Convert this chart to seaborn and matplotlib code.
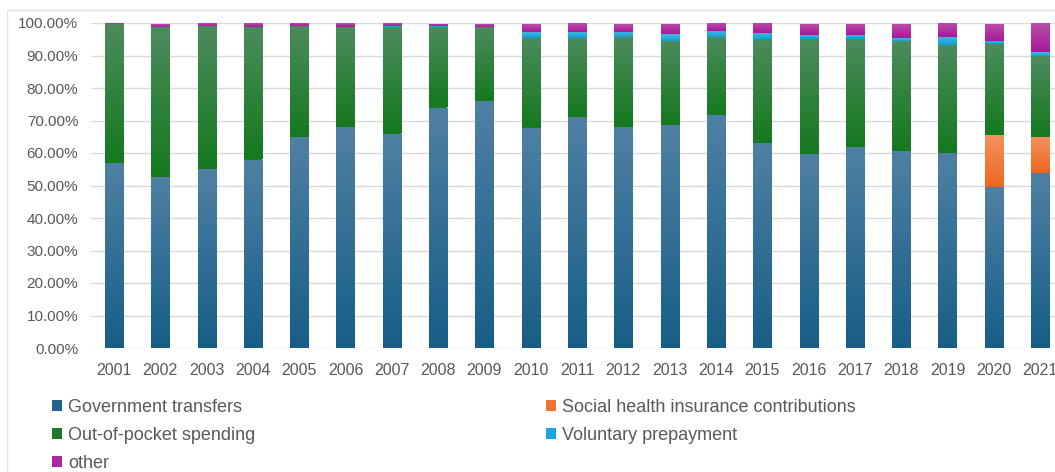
import numpy as np
import matplotlib
matplotlib.use("Agg")
import matplotlib.pyplot as plt
import seaborn as sns
from matplotlib.patches import Patch, Rectangle
from matplotlib.colors import to_rgb
from matplotlib.ticker import FuncFormatter, MultipleLocator

# ---- data (percent shares) ----
years = [str(y) for y in range(2001, 2022)]
gov = [56.8, 52.7, 55.0, 58.0, 65.0, 68.0, 66.0, 74.0, 76.0, 67.6, 71.0,
       67.9, 68.6, 71.7, 63.0, 59.6, 61.7, 60.6, 59.9, 49.6, 53.7]
shi = [0, 0, 0, 0, 0, 0, 0, 0, 0, 0, 0,
       0, 0, 0, 0, 0, 0, 0, 0, 15.9, 11.3]
oop = [42.8, 46.0, 44.0, 40.7, 34.0, 30.7, 32.9, 24.7, 22.7, 27.7, 24.3,
       27.7, 26.0, 23.9, 32.0, 35.4, 33.3, 34.0, 33.3, 27.9, 24.8]
vol = [0.1, 0.1, 0.1, 0.1, 0.1, 0.1, 0.1, 0.3, 0.2, 2.0, 2.0,
       1.7, 2.0, 2.0, 1.9, 1.3, 1.3, 0.9, 2.6, 1.1, 1.2]
other = [0.3, 0.9, 0.9, 1.2, 0.9, 1.2, 0.9, 0.7, 0.8, 2.4, 2.7,
         2.4, 3.1, 2.4, 3.1, 3.4, 3.4, 4.2, 4.2, 5.2, 9.0]

names = ["Government transfers", "Social health insurance contributions",
         "Out-of-pocket spending", "Voluntary prepayment", "other"]
series = [gov, shi, oop, vol, other]
colors = ["#22648E", "#F07430", "#1B7A2B", "#1CA5DC", "#AC26A0"]
tops = ["#4F80A3", "#F3925E", "#4C8B5D", "#47B6E3", "#B94FA8"]
bottoms = ["#175E87", "#EF6620", "#15791F", "#12A0D8", "#A6199A"]

sns.set_theme(style="white")
plt.rcParams['font.family'] = ['Liberation Sans', 'DejaVu Sans']

W, H = 1055, 472
fig = plt.figure(figsize=(W / 100, H / 100), dpi=100)
fig.patch.set_facecolor("white")
ax = fig.add_axes([90.8 / W, 124 / H, 972.5 / W, 325 / H])

bottom = np.zeros(len(years))
groups = []
for name, vals, col in zip(names, series, colors):
    n0 = len(ax.patches)
    sns.barplot(x=years, y=vals, bottom=bottom.copy(), color=col, width=0.39,
                saturation=1, errorbar=None, linewidth=0, ax=ax)
    groups.append(ax.patches[n0:])
    bottom += np.array(vals, dtype=float)

# Excel-like vertical gradient on each segment (clipped to the seaborn bars)
for pats, ct, cb in zip(groups, tops, bottoms):
    t = np.array(to_rgb(ct)); b = np.array(to_rgb(cb))
    grad = np.linspace(0, 1, 64)[:, None, None]
    img = b[None, None, :] * (1 - grad) + t[None, None, :] * grad
    for p in pats:
        h = p.get_height()
        if h <= 0:
            continue
        x0, y0 = p.get_xy()
        im = ax.imshow(img, extent=(x0, x0 + p.get_width(), y0, y0 + h),
                       origin="lower", aspect="auto", interpolation="bilinear",
                       zorder=p.get_zorder() + 0.1)
        im.set_clip_path(p)

ax.set_xlim(-0.5, 20.5)
ax.set_ylim(0, 100)
ax.yaxis.set_major_locator(MultipleLocator(10))
ax.yaxis.set_major_formatter(FuncFormatter(lambda v, p: f"{v:.2f}%"))
ax.grid(axis="y", color="#DADADA", linewidth=1)
ax.grid(axis="x", visible=False)
ax.set_axisbelow(True)
for s in ax.spines.values():
    s.set_visible(False)
ax.tick_params(axis="both", length=0, labelcolor="#595959")
ax.tick_params(axis="y", pad=9, labelsize=11)
ax.tick_params(axis="x", pad=11, labelsize=11.5)
ax.set_xlabel("")
ax.set_ylabel("")

# outer chart frame (faint)
fig.add_artist(Rectangle((7 / W, -0.1), 1.2, 1.1 - 10 / H, transform=fig.transFigure,
                         fill=False, edgecolor="#DDE3EA", linewidth=1))

# legend in two column blocks
handles = [Patch(facecolor=c, edgecolor="none") for c in colors]
col1 = [0, 2, 4]
col2 = [1, 3]
common = dict(loc="upper left", frameon=False, fontsize=13, labelcolor="#595959",
              handlelength=0.55, handleheight=0.55, handletextpad=0.35,
              labelspacing=0.6, borderpad=0, borderaxespad=0)
fig.legend([handles[i] for i in col1], [names[i] for i in col1],
           bbox_to_anchor=(52 / W, 1 - 399 / H), **common)
fig.legend([handles[i] for i in col2], [names[i] for i in col2],
           bbox_to_anchor=(546 / W, 1 - 399 / H), **common)

fig.savefig("out.png", dpi=100)
